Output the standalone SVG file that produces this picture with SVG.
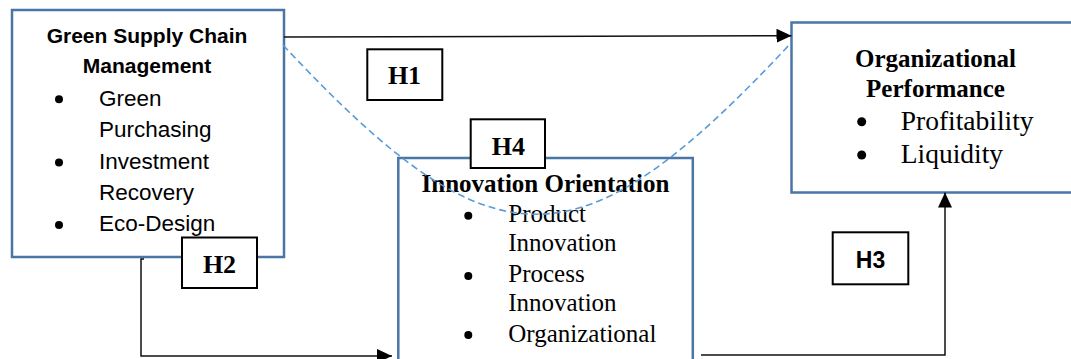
<svg xmlns="http://www.w3.org/2000/svg" width="1071" height="359" viewBox="0 0 1071 359">
<style>
.box{fill:#fff;stroke:#4A76A6;stroke-width:2.5}
.hbox{fill:#fff;stroke:#000;stroke-width:2}
.sansT{font-family:"Liberation Sans",Arial,sans-serif;font-weight:bold;fill:#000;font-size:21px}
.sans{font-family:"Liberation Sans",Arial,sans-serif;fill:#000;font-size:22.5px}
.h3t{font-family:"Liberation Sans",Arial,sans-serif;font-weight:bold;fill:#000;font-size:23px}
.serT{font-family:"Liberation Serif","Times New Roman",serif;font-weight:bold;fill:#000;font-size:25px}
.serH{font-family:"Liberation Serif","Times New Roman",serif;font-weight:bold;fill:#000;font-size:26px}
.ser{font-family:"Liberation Serif","Times New Roman",serif;fill:#000;font-size:25px}
.serL{font-family:"Liberation Serif","Times New Roman",serif;fill:#000;font-size:27.5px}
.conn{fill:none;stroke:#111;stroke-width:1.5}
.dash{fill:none;stroke:#5B9BD5;stroke-width:1.6;stroke-dasharray:7 4}
.bul{fill:#000}
.mid{text-anchor:middle}
</style>
<defs>
<marker id="arr" viewBox="0 0 15 14" refX="15" refY="7" markerWidth="15" markerHeight="14" orient="auto" markerUnits="userSpaceOnUse">
<path d="M0,0 L15,7 L0,14 Z" fill="#000"/>
</marker>
</defs>
<rect width="1071" height="359" fill="#fff"/>

<g id="gscm">
<rect class="box" x="12" y="10" width="272" height="247"/>
<text class="sansT mid" x="147" y="43">Green Supply Chain</text>
<text class="sansT mid" x="147" y="73">Management</text>
<circle class="bul" cx="59" cy="99.3" r="4"/>
<circle class="bul" cx="59" cy="162.5" r="4"/>
<circle class="bul" cx="59" cy="225" r="4"/>
<text class="sans" x="99" y="106">Green</text>
<text class="sans" x="99" y="137">Purchasing</text>
<text class="sans" x="99" y="169">Investment</text>
<text class="sans" x="99" y="199.5">Recovery</text>
<text class="sans" x="99" y="230.5">Eco-Design</text>
</g>

<g id="innovation">
<rect class="box" x="398.3" y="158" width="294.5" height="230"/>
<text class="serT mid" x="545.5" y="191.7">Innovation Orientation</text>
<circle class="bul" cx="468.3" cy="215.7" r="4"/>
<circle class="bul" cx="468.3" cy="276" r="4"/>
<circle class="bul" cx="468.3" cy="335" r="4"/>
<text class="ser" x="508.3" y="222.3">Product</text>
<text class="ser" x="508.3" y="251">Innovation</text>
<text class="ser" x="508.3" y="282.3">Process</text>
<text class="ser" x="508.3" y="311">Innovation</text>
<text class="ser" x="508.3" y="341.5">Organizational</text>
</g>

<g id="performance">
<rect class="box" x="791.5" y="22.5" width="300" height="170"/>
<text class="serT mid" x="935.5" y="66.7">Organizational</text>
<text class="serT mid" x="935.5" y="96.7">Performance</text>
<circle class="bul" cx="861.7" cy="121.7" r="4.5"/>
<circle class="bul" cx="861.7" cy="155" r="4.5"/>
<text class="serL" x="900.7" y="130">Profitability</text>
<text class="serL" x="900.7" y="163.3">Liquidity</text>
</g>

<g id="connectors">
<path class="conn" d="M284,37 L791.5,35.7" marker-end="url(#arr)"/>
<path class="conn" d="M144,259 H141 V356 H392" marker-end="url(#arr)"/>
<path class="conn" d="M701,355 H945 V192.5" marker-end="url(#arr)"/>
<path class="dash" d="M283,45 C495,272 579,270 791,43"/>
</g>

<g id="label-h1">
<rect class="hbox" x="367.3" y="49.3" width="75" height="50.7"/>
<text class="serH mid" x="404.5" y="84.3">H1</text>
</g>
<g id="label-h2">
<rect class="hbox" x="182" y="237.5" width="75" height="50.5"/>
<text class="serH mid" x="219.5" y="273.3">H2</text>
</g>
<g id="label-h3">
<rect class="hbox" x="832.7" y="232.3" width="75.6" height="52"/>
<text class="h3t mid" x="870.5" y="268.3">H3</text>
</g>
<g id="label-h4">
<rect class="hbox" x="470.7" y="119.3" width="74.3" height="48.7"/>
<text class="serH mid" x="508.3" y="155">H4</text>
</g>
</svg>
